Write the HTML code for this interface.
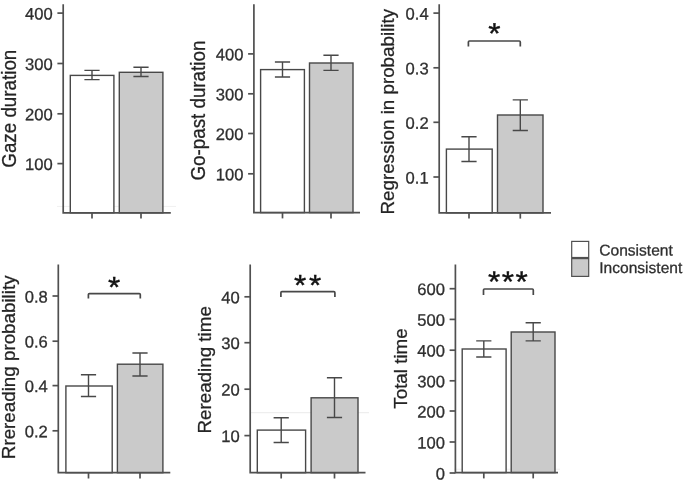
<!DOCTYPE html><html><head><meta charset="utf-8"><style>html,body{margin:0;padding:0;background:#fff}svg{display:block;filter:grayscale(1)}text{font-family:"Liberation Sans",sans-serif;stroke:#333;stroke-width:0.3px}</style></head><body>
<svg width="685" height="481" viewBox="0 0 685 481">
<rect width="685" height="481" fill="#fff"/>
<path d="M251 412.7H369" stroke="#ebebeb" stroke-width="1"/>
<path d="M57 206.4H176M454 469.2H560" stroke="#f0f0f0" stroke-width="1"/>
<rect x="70.3" y="75.4" width="43.6" height="137.4" fill="#fff" stroke="#484848" stroke-width="1.4"/>
<rect x="119.3" y="72.3" width="43.6" height="140.5" fill="#cacaca" stroke="#484848" stroke-width="1.4"/>
<path d="M84.4 70.4H99.6M84.4 79.6H99.6M92 70.4V79.6" stroke="#484848" stroke-width="1.4" fill="none"/>
<path d="M133.4 67.3H148.6M133.4 76.5H148.6M141 67.3V76.5" stroke="#484848" stroke-width="1.4" fill="none"/>
<path d="M63.2 4.2V212.8H170.8" stroke="#505050" stroke-width="1.7" fill="none"/>
<path d="M57.400000000000006 13.1H63.2" stroke="#505050" stroke-width="1.7"/>
<text transform="translate(52.7 19.5) rotate(0.05) scale(1.0 1)" font-size="16.6" fill="#2e2e2e" text-anchor="end">400</text>
<path d="M57.400000000000006 63.5H63.2" stroke="#505050" stroke-width="1.7"/>
<text transform="translate(52.7 69.9) rotate(0.05) scale(1.0 1)" font-size="16.6" fill="#2e2e2e" text-anchor="end">300</text>
<path d="M57.400000000000006 113.8H63.2" stroke="#505050" stroke-width="1.7"/>
<text transform="translate(52.7 120.2) rotate(0.05) scale(1.0 1)" font-size="16.6" fill="#2e2e2e" text-anchor="end">200</text>
<path d="M57.400000000000006 163.6H63.2" stroke="#505050" stroke-width="1.7"/>
<text transform="translate(52.7 170.0) rotate(0.05) scale(1.0 1)" font-size="16.6" fill="#2e2e2e" text-anchor="end">100</text>
<path d="M92 212.8V218.60000000000002" stroke="#505050" stroke-width="1.7"/>
<path d="M141 212.8V218.60000000000002" stroke="#505050" stroke-width="1.7"/>
<text transform="translate(15.6 108.7) rotate(-90) scale(1 1.065)" font-size="18.8" fill="#222" text-anchor="middle">Gaze duration</text>
<rect x="260.6" y="69.6" width="43.8" height="143.0" fill="#fff" stroke="#484848" stroke-width="1.4"/>
<rect x="309.5" y="63" width="43.5" height="149.6" fill="#cacaca" stroke="#484848" stroke-width="1.4"/>
<path d="M274.9 62H290.1M274.9 77H290.1M282.5 62V77" stroke="#484848" stroke-width="1.4" fill="none"/>
<path d="M323.4 55.2H338.6M323.4 70.4H338.6M331 55.2V70.4" stroke="#484848" stroke-width="1.4" fill="none"/>
<path d="M253.9 4.2V212.6H360" stroke="#505050" stroke-width="1.7" fill="none"/>
<path d="M248.1 53.9H253.9" stroke="#505050" stroke-width="1.7"/>
<text transform="translate(243.4 60.3) rotate(0.05) scale(1.0 1)" font-size="16.6" fill="#2e2e2e" text-anchor="end">400</text>
<path d="M248.1 93.8H253.9" stroke="#505050" stroke-width="1.7"/>
<text transform="translate(243.4 100.2) rotate(0.05) scale(1.0 1)" font-size="16.6" fill="#2e2e2e" text-anchor="end">300</text>
<path d="M248.1 133.5H253.9" stroke="#505050" stroke-width="1.7"/>
<text transform="translate(243.4 139.9) rotate(0.05) scale(1.0 1)" font-size="16.6" fill="#2e2e2e" text-anchor="end">200</text>
<path d="M248.1 173.8H253.9" stroke="#505050" stroke-width="1.7"/>
<text transform="translate(243.4 180.20000000000002) rotate(0.05) scale(1.0 1)" font-size="16.6" fill="#2e2e2e" text-anchor="end">100</text>
<path d="M282.5 212.6V218.4" stroke="#505050" stroke-width="1.7"/>
<path d="M331 212.6V218.4" stroke="#505050" stroke-width="1.7"/>
<text transform="translate(204.5 110.6) rotate(-90) scale(1 1.065)" font-size="18.8" fill="#222" text-anchor="middle">Go-past duration</text>
<rect x="446.4" y="149.1" width="45.8" height="63.7" fill="#fff" stroke="#484848" stroke-width="1.4"/>
<rect x="497.5" y="115" width="45.5" height="97.8" fill="#cacaca" stroke="#484848" stroke-width="1.4"/>
<path d="M461.4 136.8H476.6M461.4 161.5H476.6M469 136.8V161.5" stroke="#484848" stroke-width="1.4" fill="none"/>
<path d="M512.6999999999999 99.9H527.9M512.6999999999999 130.5H527.9M520.3 99.9V130.5" stroke="#484848" stroke-width="1.4" fill="none"/>
<path d="M439.2 4.2V212.8H551" stroke="#505050" stroke-width="1.7" fill="none"/>
<path d="M433.4 13.1H439.2" stroke="#505050" stroke-width="1.7"/>
<text transform="translate(428.7 19.5) rotate(0.05) scale(1.0 1)" font-size="16.6" fill="#2e2e2e" text-anchor="end">0.4</text>
<path d="M433.4 67.8H439.2" stroke="#505050" stroke-width="1.7"/>
<text transform="translate(428.7 74.2) rotate(0.05) scale(1.0 1)" font-size="16.6" fill="#2e2e2e" text-anchor="end">0.3</text>
<path d="M433.4 122.3H439.2" stroke="#505050" stroke-width="1.7"/>
<text transform="translate(428.7 128.7) rotate(0.05) scale(1.0 1)" font-size="16.6" fill="#2e2e2e" text-anchor="end">0.2</text>
<path d="M433.4 177H439.2" stroke="#505050" stroke-width="1.7"/>
<text transform="translate(428.7 183.4) rotate(0.05) scale(1.0 1)" font-size="16.6" fill="#2e2e2e" text-anchor="end">0.1</text>
<path d="M469 212.8V218.60000000000002" stroke="#505050" stroke-width="1.7"/>
<path d="M520.3 212.8V218.60000000000002" stroke="#505050" stroke-width="1.7"/>
<text transform="translate(394.3 111.75) rotate(-90) scale(1 1)" font-size="18.8" fill="#222" text-anchor="middle">Regression in probability</text>
<path d="M468.4 46.6V42Q468.4 41 469.4 41H519.3Q520.3 41 520.3 42V46.6" stroke="#484848" stroke-width="1.7" fill="none"/>
<text transform="translate(494.3 43.44) rotate(0.05) scale(1.065 1)" font-size="29.5" fill="#111" text-anchor="middle" style="stroke:#111;stroke-width:0.4px">*</text>
<rect x="65.9" y="386" width="46.3" height="86.7" fill="#fff" stroke="#484848" stroke-width="1.4"/>
<rect x="117.4" y="364.2" width="45.5" height="108.5" fill="#cacaca" stroke="#484848" stroke-width="1.4"/>
<path d="M80.9 374.7H96.1M80.9 396.5H96.1M88.5 374.7V396.5" stroke="#484848" stroke-width="1.4" fill="none"/>
<path d="M132.4 353H147.6M132.4 376H147.6M140 353V376" stroke="#484848" stroke-width="1.4" fill="none"/>
<path d="M58.3 264.5V472.7H170.3" stroke="#505050" stroke-width="1.7" fill="none"/>
<path d="M52.5 296H58.3" stroke="#505050" stroke-width="1.7"/>
<text transform="translate(47.8 302.4) rotate(0.05) scale(1.0 1)" font-size="16.6" fill="#2e2e2e" text-anchor="end">0.8</text>
<path d="M52.5 341.2H58.3" stroke="#505050" stroke-width="1.7"/>
<text transform="translate(47.8 347.59999999999997) rotate(0.05) scale(1.0 1)" font-size="16.6" fill="#2e2e2e" text-anchor="end">0.6</text>
<path d="M52.5 385.6H58.3" stroke="#505050" stroke-width="1.7"/>
<text transform="translate(47.8 392.0) rotate(0.05) scale(1.0 1)" font-size="16.6" fill="#2e2e2e" text-anchor="end">0.4</text>
<path d="M52.5 430.8H58.3" stroke="#505050" stroke-width="1.7"/>
<text transform="translate(47.8 437.2) rotate(0.05) scale(1.0 1)" font-size="16.6" fill="#2e2e2e" text-anchor="end">0.2</text>
<path d="M88.5 472.7V478.5" stroke="#505050" stroke-width="1.7"/>
<path d="M140 472.7V478.5" stroke="#505050" stroke-width="1.7"/>
<text transform="translate(15.3 367.3) rotate(-90) scale(1 1)" font-size="18.8" fill="#222" text-anchor="middle">Rrereading probability</text>
<path d="M88.4 298.6V294.6Q88.4 293.6 89.4 293.6H139.3Q140.3 293.6 140.3 294.6V298.6" stroke="#484848" stroke-width="1.7" fill="none"/>
<text transform="translate(114.1 297.24) rotate(0.05) scale(1.065 1)" font-size="29.5" fill="#111" text-anchor="middle" style="stroke:#111;stroke-width:0.4px">*</text>
<rect x="257.3" y="430.1" width="48.3" height="42.6" fill="#fff" stroke="#484848" stroke-width="1.4"/>
<rect x="311.1" y="397.8" width="46.9" height="74.9" fill="#cacaca" stroke="#484848" stroke-width="1.4"/>
<path d="M273.59999999999997 417.8H288.8M273.59999999999997 442.5H288.8M281.2 417.8V442.5" stroke="#484848" stroke-width="1.4" fill="none"/>
<path d="M326.9 377.8H342.1M326.9 417.5H342.1M334.5 377.8V417.5" stroke="#484848" stroke-width="1.4" fill="none"/>
<path d="M250.2 264.5V472.7H365.5" stroke="#505050" stroke-width="1.7" fill="none"/>
<path d="M244.39999999999998 296.8H250.2" stroke="#505050" stroke-width="1.7"/>
<text transform="translate(239.7 303.2) rotate(0.05) scale(1.0 1)" font-size="16.6" fill="#2e2e2e" text-anchor="end">40</text>
<path d="M244.39999999999998 342.7H250.2" stroke="#505050" stroke-width="1.7"/>
<text transform="translate(239.7 349.09999999999997) rotate(0.05) scale(1.0 1)" font-size="16.6" fill="#2e2e2e" text-anchor="end">30</text>
<path d="M244.39999999999998 389.2H250.2" stroke="#505050" stroke-width="1.7"/>
<text transform="translate(239.7 395.59999999999997) rotate(0.05) scale(1.0 1)" font-size="16.6" fill="#2e2e2e" text-anchor="end">20</text>
<path d="M244.39999999999998 435.6H250.2" stroke="#505050" stroke-width="1.7"/>
<text transform="translate(239.7 442.0) rotate(0.05) scale(1.0 1)" font-size="16.6" fill="#2e2e2e" text-anchor="end">10</text>
<path d="M281.2 472.7V478.5" stroke="#505050" stroke-width="1.7"/>
<path d="M334.5 472.7V478.5" stroke="#505050" stroke-width="1.7"/>
<text transform="translate(210.8 369.85) rotate(-90) scale(1 1)" font-size="18.8" fill="#222" text-anchor="middle">Rereading time</text>
<path d="M280.9 296.9V292.7Q280.9 291.7 281.9 291.7H333.9Q334.9 291.7 334.9 292.7V296.9" stroke="#484848" stroke-width="1.7" fill="none"/>
<text transform="translate(300.1 295.14) rotate(0.05) scale(1.065 1)" font-size="29.5" fill="#111" text-anchor="middle" style="stroke:#111;stroke-width:0.4px">*</text>
<text transform="translate(315.0 295.14) rotate(0.05) scale(1.065 1)" font-size="29.5" fill="#111" text-anchor="middle" style="stroke:#111;stroke-width:0.4px">*</text>
<rect x="462.2" y="349" width="43.9" height="123.6" fill="#fff" stroke="#484848" stroke-width="1.4"/>
<rect x="511.2" y="332" width="43.8" height="140.6" fill="#cacaca" stroke="#484848" stroke-width="1.4"/>
<path d="M476.2 340.9H491.40000000000003M476.2 357H491.40000000000003M483.8 340.9V357" stroke="#484848" stroke-width="1.4" fill="none"/>
<path d="M525.6 322.8H540.8000000000001M525.6 340.9H540.8000000000001M533.2 322.8V340.9" stroke="#484848" stroke-width="1.4" fill="none"/>
<path d="M455.4 264.5V472.6H558" stroke="#505050" stroke-width="1.7" fill="none"/>
<path d="M449.59999999999997 288.7H455.4" stroke="#505050" stroke-width="1.7"/>
<text transform="translate(444.9 295.09999999999997) rotate(0.05) scale(1.0 1)" font-size="16.6" fill="#2e2e2e" text-anchor="end">600</text>
<path d="M449.59999999999997 319.4H455.4" stroke="#505050" stroke-width="1.7"/>
<text transform="translate(444.9 325.79999999999995) rotate(0.05) scale(1.0 1)" font-size="16.6" fill="#2e2e2e" text-anchor="end">500</text>
<path d="M449.59999999999997 350.2H455.4" stroke="#505050" stroke-width="1.7"/>
<text transform="translate(444.9 356.59999999999997) rotate(0.05) scale(1.0 1)" font-size="16.6" fill="#2e2e2e" text-anchor="end">400</text>
<path d="M449.59999999999997 380.8H455.4" stroke="#505050" stroke-width="1.7"/>
<text transform="translate(444.9 387.2) rotate(0.05) scale(1.0 1)" font-size="16.6" fill="#2e2e2e" text-anchor="end">300</text>
<path d="M449.59999999999997 411H455.4" stroke="#505050" stroke-width="1.7"/>
<text transform="translate(444.9 417.4) rotate(0.05) scale(1.0 1)" font-size="16.6" fill="#2e2e2e" text-anchor="end">200</text>
<path d="M449.59999999999997 442H455.4" stroke="#505050" stroke-width="1.7"/>
<text transform="translate(444.9 448.4) rotate(0.05) scale(1.0 1)" font-size="16.6" fill="#2e2e2e" text-anchor="end">100</text>
<path d="M449.59999999999997 473H455.4" stroke="#505050" stroke-width="1.7"/>
<text transform="translate(444.9 479.4) rotate(0.05) scale(1.0 1)" font-size="16.6" fill="#2e2e2e" text-anchor="end">0</text>
<path d="M483.8 472.6V478.40000000000003" stroke="#505050" stroke-width="1.7"/>
<path d="M533.2 472.6V478.40000000000003" stroke="#505050" stroke-width="1.7"/>
<text transform="translate(406.6 368.5) rotate(-90) scale(1 1)" font-size="18.8" fill="#222" text-anchor="middle">Total time</text>
<path d="M483.5 294.9V290Q483.5 289 484.5 289H532.3Q533.3 289 533.3 290V294.9" stroke="#484848" stroke-width="1.7" fill="none"/>
<text transform="translate(494.2 291.74) rotate(0.05) scale(1.065 1)" font-size="29.5" fill="#111" text-anchor="middle" style="stroke:#111;stroke-width:0.4px">*</text>
<text transform="translate(507.85 291.74) rotate(0.05) scale(1.065 1)" font-size="29.5" fill="#111" text-anchor="middle" style="stroke:#111;stroke-width:0.4px">*</text>
<text transform="translate(521.5 291.74) rotate(0.05) scale(1.065 1)" font-size="29.5" fill="#111" text-anchor="middle" style="stroke:#111;stroke-width:0.4px">*</text>
<rect x="571.7" y="241.4" width="17" height="16.1" fill="#fff" stroke="#505050" stroke-width="1.2"/>
<rect x="571.7" y="258.6" width="17" height="17.8" fill="#cacaca" stroke="#505050" stroke-width="1.2"/>
<text transform="translate(599.3 255.5) rotate(0.05) scale(1 1)" font-size="15.55" fill="#2e2e2e">Consistent</text>
<text transform="translate(599.3 272.9) rotate(0.05) scale(1 1)" font-size="15.55" fill="#2e2e2e">Inconsistent</text>
</svg></body></html>
